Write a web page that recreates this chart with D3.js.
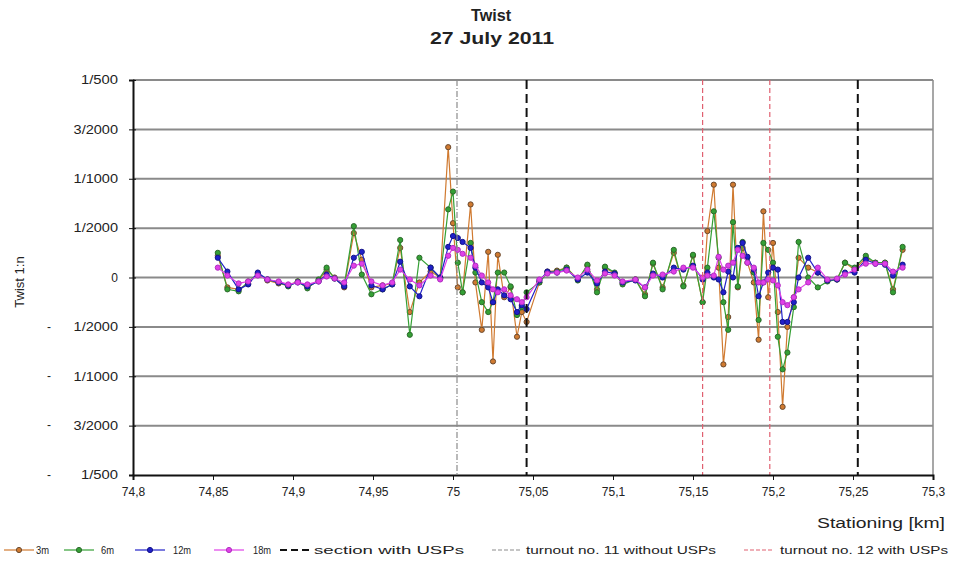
<!DOCTYPE html>
<html>
<head>
<meta charset="utf-8">
<script src="https://cdn.jsdelivr.net/npm/d3@7"></script>
<style>
  body { margin: 0; background: #fff; }
  text { font-family: "Liberation Sans", Arial, sans-serif; fill: #222; }
</style>
</head>
<body>
<div id="chart"></div>
<script>
// stationing [km]
var stations = [74.853, 74.859, 74.866, 74.872, 74.878, 74.884, 74.891, 74.897, 74.903, 74.909,
  74.916, 74.921, 74.926, 74.932, 74.938, 74.943, 74.949, 74.956, 74.962, 74.967,
  74.973, 74.979, 74.986, 74.992, 74.997, 75.000, 75.003, 75.006, 75.011, 75.014,
  75.018, 75.022, 75.025, 75.028, 75.032, 75.036, 75.040, 75.043, 75.046, 75.054,
  75.059, 75.065, 75.071, 75.078, 75.084, 75.090, 75.095, 75.101, 75.106, 75.114,
  75.120, 75.125, 75.131, 75.138, 75.144, 75.150, 75.156, 75.159, 75.163, 75.166,
  75.169, 75.172, 75.175, 75.178, 75.181, 75.184, 75.188, 75.191, 75.194, 75.197,
  75.200, 75.203, 75.206, 75.209, 75.213, 75.216, 75.222, 75.228, 75.234, 75.240,
  75.245, 75.251, 75.258, 75.264, 75.270, 75.275, 75.281];

// twist in per mille (1/2000 = 0.5)
var twist3m = [0.22, -0.10, -0.12, -0.06, 0.04, -0.03, -0.06, -0.08, -0.04, -0.10,
  -0.03, 0.08, 0.00, -0.10, 0.45, 0.18, -0.10, -0.08, -0.06, 0.30,
  -0.35, -0.05, 0.06, 0.00, 1.32, 0.55, -0.10, -0.15, 0.74, -0.05,
  -0.53, 0.26, -0.85, 0.23, -0.20, -0.10, -0.60, -0.35, -0.45, -0.05,
  0.06, 0.07, 0.10, -0.02, 0.12, -0.12, 0.10, 0.04, -0.06, -0.02,
  -0.17, 0.14, -0.10, 0.25, -0.08, 0.22, -0.25, 0.47, 0.94, 0.10,
  -0.88, -0.40, 0.94, -0.10, 0.30, 0.15, -0.05, -0.63, 0.67, -0.20,
  0.35, -0.35, -1.31, -0.50, -0.20, 0.20, 0.10, 0.05, -0.03, -0.02,
  0.15, 0.08, 0.20, 0.15, 0.15, -0.12, 0.28];

var twist6m = [0.25, -0.12, -0.14, -0.04, 0.03, -0.02, -0.05, -0.09, -0.04, -0.11,
  -0.02, 0.10, -0.01, -0.08, 0.52, 0.03, -0.17, -0.12, -0.07, 0.38,
  -0.58, 0.20, 0.10, -0.01, 0.69, 0.87, 0.15, -0.15, 0.35, 0.05,
  -0.25, -0.35, -0.25, 0.05, 0.05, -0.09, -0.38, -0.30, -0.15, -0.05,
  0.05, 0.06, 0.10, -0.03, 0.13, -0.15, 0.11, 0.05, -0.07, -0.02,
  -0.19, 0.15, -0.12, 0.28, -0.09, 0.23, -0.25, 0.10, 0.67, 0.20,
  -0.25, -0.53, 0.56, -0.09, 0.36, 0.20, 0.05, -0.43, 0.35, 0.28,
  0.15, -0.60, -0.93, -0.76, -0.30, 0.36, 0.00, -0.10, -0.04, -0.02,
  0.15, 0.10, 0.22, 0.15, 0.15, -0.15, 0.31];

var twist12m = [0.20, 0.06, -0.12, -0.07, 0.05, -0.02, -0.05, -0.08, -0.05, -0.09,
  -0.04, 0.03, -0.01, -0.09, 0.20, 0.26, -0.08, -0.12, -0.07, 0.16,
  -0.09, -0.19, 0.10, 0.00, 0.31, 0.42, 0.40, 0.36, 0.30, 0.10,
  -0.05, -0.10, -0.25, -0.12, -0.18, -0.22, -0.35, -0.28, -0.32, -0.03,
  0.06, 0.05, 0.08, -0.02, 0.05, -0.06, 0.06, 0.04, -0.05, -0.03,
  -0.10, 0.04, 0.00, 0.10, 0.08, 0.12, -0.02, 0.05, 0.00, -0.02,
  -0.15, 0.06, 0.00, 0.30, 0.35, 0.21, 0.08, -0.19, -0.05, 0.05,
  0.10, 0.08, -0.45, -0.45, -0.25, 0.00, 0.20, 0.05, -0.03, -0.02,
  0.05, 0.05, 0.18, 0.14, 0.13, 0.02, 0.13];

var twist18m = [0.10, 0.02, -0.06, -0.04, 0.02, -0.02, -0.04, -0.07, -0.05, -0.07,
  -0.04, 0.01, -0.01, -0.05, 0.12, 0.14, -0.04, -0.08, -0.05, 0.08,
  -0.02, -0.08, 0.02, -0.02, 0.22, 0.30, 0.28, 0.24, 0.20, 0.12,
  0.02, -0.05, -0.12, -0.15, -0.12, -0.18, -0.22, -0.25, -0.20, -0.02,
  0.04, 0.05, 0.07, 0.00, 0.08, -0.03, 0.04, 0.02, -0.04, -0.02,
  -0.10, 0.02, 0.03, 0.06, 0.10, 0.10, 0.00, 0.02, 0.02, 0.21,
  0.08, 0.12, 0.15, 0.28, 0.22, 0.15, 0.10, -0.05, -0.05, -0.02,
  -0.03, -0.08, -0.25, -0.28, -0.20, -0.12, -0.05, 0.10, -0.02, -0.01,
  0.03, 0.08, 0.14, 0.14, 0.14, 0.06, 0.10];

var seriesNames = ["3m", "6m", "12m", "18m"];
var seriesColors = ["#d07a30", "#35a035", "#2020c8", "#e040e8"];
var markerColors = ["#6a4a30", "#2c6a2c", "#14148a", "#b030c0"];

var yTickValues = [2, 1.5, 1, 0.5, 0, -0.5, -1, -1.5, -2];
var yTickLabels = ["1/500", "3/2000", "1/1000", "1/2000", "0", "1/2000", "1/1000", "3/2000", "1/500"];
var xTickValues = [74.8, 74.85, 74.9, 74.95, 75, 75.05, 75.1, 75.15, 75.2, 75.25, 75.3];
var xTickLabels = ["74,8", "74,85", "74,9", "74,95", "75", "75,05", "75,1", "75,15", "75,2", "75,25", "75,3"];

var sectionUSP = [75.046, 75.253];
var turnout11 = [75.0025];
var turnout12 = [75.156, 75.198];

var _width = 953, _height = 567;
var _left = 133, _right = 933, _top = 80, _bottom = 475;

var svg = d3.select("#chart").append("svg")
  .attr("width", _width)
  .attr("height", _height);

var x = d3.scaleLinear().domain([74.8, 75.3]).range([_left, _right]);
var y = d3.scaleLinear().domain([-2, 2]).range([_bottom, _top]);

// the source picture is stretched sideways, so text gets a fixed length
function stretch(sel, len) {
  sel.attr("textLength", len).attr("lengthAdjust", "spacingAndGlyphs");
}

// titles
svg.append("text").attr("x", 491).attr("y", 21)
  .attr("text-anchor", "middle").style("font-weight", "bold").style("font-size", "16px")
  .text("Twist").call(stretch, 40);
svg.append("text").attr("x", 492).attr("y", 44)
  .attr("text-anchor", "middle").style("font-weight", "bold").style("font-size", "16px")
  .text("27 July 2011").call(stretch, 124);

// horizontal grid
svg.append("g").selectAll("line")
  .data(yTickValues.filter(function (d) { return d !== -2; }))
  .enter().append("line")
  .attr("x1", _left).attr("x2", _right)
  .attr("y1", function (d) { return y(d); })
  .attr("y2", function (d) { return y(d); })
  .attr("stroke", "#8a8a8a")
  .attr("stroke-width", 2);

// right border
svg.append("line")
  .attr("x1", _right).attr("x2", _right).attr("y1", _top).attr("y2", _bottom)
  .attr("stroke", "#8a8a8a").attr("stroke-width", 1.5);

// series
function rows(vals) {
  return stations.map(function (s, i) { return { s: s, v: vals[i] }; });
}
var allSeries = [twist3m, twist6m, twist12m, twist18m];

var line = d3.line()
  .x(function (d) { return x(d.s); })
  .y(function (d) { return y(d.v); });

allSeries.forEach(function (vals, k) {
  var g = svg.append("g").attr("class", "series");
  var data = rows(vals);
  g.append("path")
    .datum(data)
    .attr("d", line)
    .attr("fill", "none")
    .attr("stroke", seriesColors[k])
    .attr("stroke-width", 1.2);
  g.selectAll("circle")
    .data(data)
    .enter().append("circle")
    .attr("cx", function (d) { return x(d.s); })
    .attr("cy", function (d) { return y(d.v); })
    .attr("r", 2.6)
    .attr("fill", seriesColors[k])
    .attr("stroke", markerColors[k])
    .attr("stroke-width", 1);
});

// vertical marker lines
function vlines(list, color, width, dash) {
  svg.append("g").selectAll("line")
    .data(list)
    .enter().append("line")
    .attr("x1", function (d) { return x(d); })
    .attr("x2", function (d) { return x(d); })
    .attr("y1", _top).attr("y2", _bottom)
    .attr("stroke", color)
    .attr("stroke-width", width)
    .attr("stroke-dasharray", dash);
}
vlines(turnout11, "#8c8c8c", 1.2, "6,2,1,2");
vlines(turnout12, "#e06070", 1.2, "5,3");
vlines(sectionUSP, "#111", 2, "9,5");

// axes
var xAxis = d3.axisBottom(x)
  .tickValues(xTickValues)
  .tickSize(5)
  .tickFormat(function (d, i) { return xTickLabels[i]; });
var gx = svg.append("g")
  .attr("transform", "translate(0," + _bottom + ")")
  .call(xAxis);
gx.select(".domain").attr("stroke", "#111").attr("stroke-width", 2);
gx.selectAll(".tick line").attr("stroke", "#111");
gx.selectAll("text").style("font-size", "12px").attr("fill", "#333").attr("dy", "1.05em");

var yAxis = d3.axisLeft(y)
  .tickValues(yTickValues)
  .tickSize(4)
  .tickFormat(function (d, i) { return yTickLabels[i]; });
var gy = svg.append("g")
  .attr("transform", "translate(" + _left + ",0)")
  .call(yAxis);
gy.select(".domain").attr("stroke", "#111").attr("stroke-width", 2);
gy.selectAll(".tick line").attr("stroke", "#111").attr("x1", 3);
gy.selectAll("text").style("font-size", "12px").attr("fill", "#444").attr("x", -15)
  .each(function (d, i) {
    var len = yTickLabels[i].length;
    if (len > 1) d3.select(this).call(stretch, len * 7.4);
  });

// minus signs of negative labels
svg.append("g").selectAll("text")
  .data(yTickValues.filter(function (d) { return d < 0; }))
  .enter().append("text")
  .attr("x", 49)
  .attr("y", function (d) { return y(d); })
  .attr("dy", "0.32em")
  .attr("text-anchor", "middle")
  .style("font-size", "12px")
  .attr("fill", "#777")
  .text("-");

// axis titles
svg.append("text")
  .attr("transform", "translate(24,282) rotate(-90)")
  .attr("text-anchor", "middle")
  .style("font-size", "13px")
  .text("Twist 1:n");
svg.append("text")
  .attr("x", 945).attr("y", 528)
  .attr("text-anchor", "end")
  .style("font-size", "14px")
  .text("Stationing [km]").call(stretch, 128);

// legend
var legendItems = [
  { label: "3m", color: seriesColors[0], mk: markerColors[0], x: 4, tx: 36, len: 13, dash: null, w: 1.2 },
  { label: "6m", color: seriesColors[1], mk: markerColors[1], x: 64, tx: 101, len: 13, dash: null, w: 1.2 },
  { label: "12m", color: seriesColors[2], mk: markerColors[2], x: 135, tx: 173, len: 18, dash: null, w: 1.2 },
  { label: "18m", color: seriesColors[3], mk: markerColors[3], x: 214, tx: 253, len: 18, dash: null, w: 1.2 },
  { label: "section with USPs", color: "#111", x: 280, tx: 314, len: 150, dash: "7,4", w: 2 },
  { label: "turnout no. 11 without USPs", color: "#8c8c8c", x: 492, tx: 526, len: 190, dash: "4,2", w: 1.2 },
  { label: "turnout no. 12 with USPs", color: "#e06070", x: 744, tx: 780, len: 168, dash: "4,2", w: 1.2 }
];
var leg = svg.append("g").selectAll("g")
  .data(legendItems)
  .enter().append("g")
  .attr("transform", "translate(0,550)");
leg.append("line")
  .attr("x1", function (d) { return d.x; })
  .attr("x2", function (d) { return d.x + 30; })
  .attr("y1", 0).attr("y2", 0)
  .attr("stroke", function (d) { return d.color; })
  .attr("stroke-width", function (d) { return d.w; })
  .attr("stroke-dasharray", function (d) { return d.dash; });
leg.filter(function (d) { return d.mk; }).append("circle")
  .attr("cx", function (d) { return d.x + 15; }).attr("cy", 0).attr("r", 2.6)
  .attr("fill", function (d) { return d.color; })
  .attr("stroke", function (d) { return d.mk; });
leg.append("text")
  .attr("x", function (d) { return d.tx; }).attr("y", 0).attr("dy", "0.35em")
  .style("font-size", "11px")
  .attr("fill", "#333")
  .attr("textLength", function (d) { return d.len; })
  .attr("lengthAdjust", "spacingAndGlyphs")
  .text(function (d) { return d.label; });
</script>
</body>
</html>
